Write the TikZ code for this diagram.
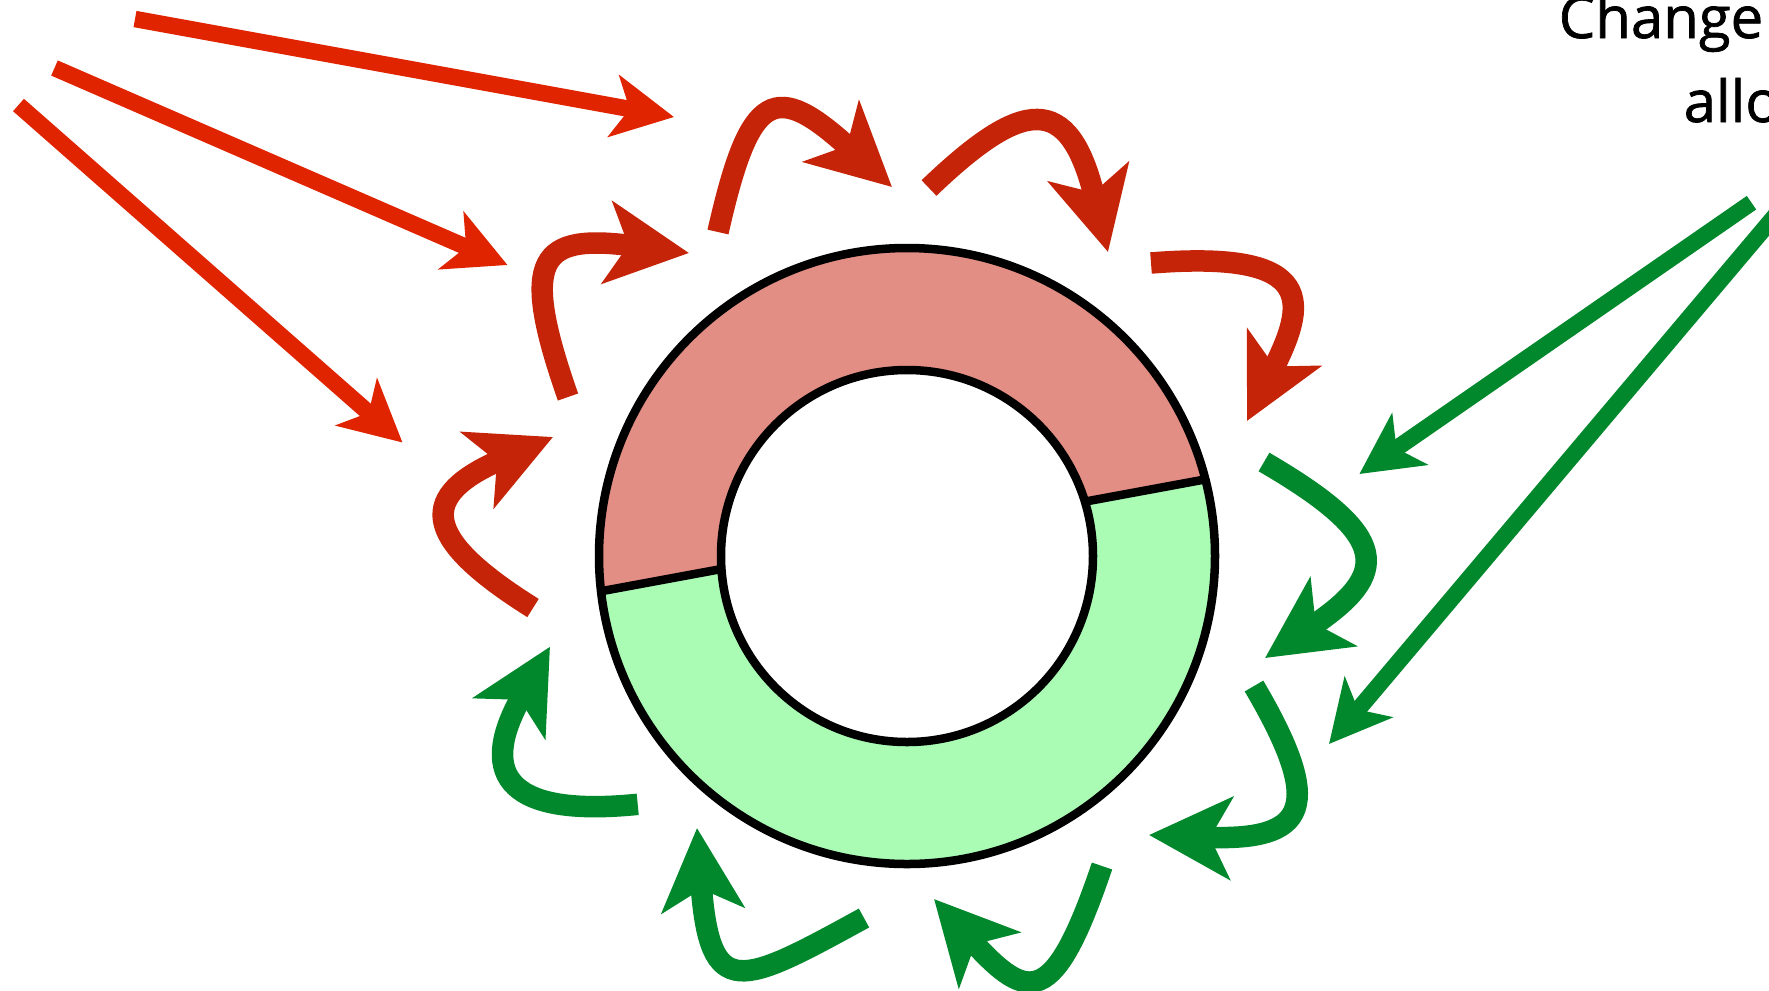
\documentclass[tikz,border=0pt]{standalone}
\usepackage{fontspec}
\setsansfont[FakeBold=1.2]{Open Sans}
\usetikzlibrary{arrows.meta}

\definecolor{feedred}{HTML}{E12400}
\definecolor{curlred}{HTML}{C62408}
\definecolor{curlgreen}{HTML}{02882C}
\definecolor{ringred}{HTML}{E28E84}
\definecolor{ringgreen}{HTML}{AAFCB5}

\begin{document}
\begin{tikzpicture}[
    x=0.01cm, y=-0.01cm,
    font=\sffamily,
    feed_arrow/.style={line width=1.65mm, -{Stealth[length=6.1mm, width=6.2mm, inset=1.6mm]}},
    curl_arrow/.style={line width=2.15mm, -{Stealth[length=8.2mm, width=8.2mm, inset=2.1mm]}},
    rim/.style={draw=black, line width=0.85mm},
    sidenote/.style={anchor=base west, inner sep=0pt, font=\sffamily\fontsize{16.5}{20}\selectfont}
]

% Canvas
\path[use as bounding box, fill=white] (0,0) rectangle (1769,990);

% Ring
\coordinate (hub) at (907,556);
\fill[ringgreen, even odd rule] (hub) circle[radius=308] (hub) circle[radius=186];
\begin{scope}
    \clip (503,609.4) -- (1303,461.3) -- (1303,200) -- (503,200) -- cycle;
    \fill[ringred, even odd rule] (hub) circle[radius=308] (hub) circle[radius=186];
\end{scope}
\coordinate (cutLo) at (601.3,591.2);
\coordinate (cutLi) at (721.5,569);
\coordinate (cutRi) at (1084.5,501.7);
\coordinate (cutRo) at (1204.7,479.5);
\draw[rim] (cutLo) -- (cutLi);
\draw[rim] (cutRi) -- (cutRo);
\draw[rim] (hub) circle[radius=308];
\draw[rim] (hub) circle[radius=186];

% Incoming red arrows
\coordinate (feedA) at (135,19);
\coordinate (feedAend) at (674,117);
\coordinate (feedB) at (54.5,68);
\coordinate (feedBend) at (507.5,265);
\coordinate (feedC) at (18.5,105);
\coordinate (feedCend) at (402.5,442.5);
\draw[feed_arrow, feedred] (feedA) -- (feedAend);
\draw[feed_arrow, feedred] (feedB) -- (feedBend);
\draw[feed_arrow, feedred] (feedC) -- (feedCend);

% Red loops
\coordinate (redA) at (533,608);   \coordinate (redAend) at (553,437);
\coordinate (redB) at (568,397);   \coordinate (redBend) at (689,253);
\coordinate (redC) at (718,232);   \coordinate (redCend) at (892,187);
\coordinate (redD) at (929,188);   \coordinate (redDend) at (1108,252);
\coordinate (redE) at (1151,263);  \coordinate (redEend) at (1247,421);
\draw[curl_arrow, curlred] (redA) .. controls (418,536) and (420,495) .. (redAend);
\draw[curl_arrow, curlred] (redB) .. controls (518.5,256) and (540.2,233.8) .. (redBend);
\draw[curl_arrow, curlred] (redC) .. controls (750,90) and (775,80) .. (redCend);
\draw[curl_arrow, curlred] (redD) .. controls (1022.6,98.3) and (1068.9,91.8) .. (redDend);
\draw[curl_arrow, curlred] (redE) .. controls (1320.5,249.4) and (1305.5,305) .. (redEend);

% Green loops
\coordinate (greenA) at (1264,462);   \coordinate (greenAend) at (1265,658);
\coordinate (greenB) at (1254,686);   \coordinate (greenBend) at (1149,835);
\coordinate (greenC) at (1102,866);   \coordinate (greenCend) at (934,899);
\coordinate (greenD) at (864,918);    \coordinate (greenDend) at (697,828);
\coordinate (greenE) at (637.7,804.3); \coordinate (greenEend) at (550,646.7);
\draw[curl_arrow, curlgreen] (greenA) .. controls (1393,537) and (1389.4,574) .. (greenAend);
\draw[curl_arrow, curlgreen] (greenB) .. controls (1324.8,806.8) and (1308.8,841.4) .. (greenBend);
\draw[curl_arrow, curlgreen] (greenC) .. controls (1054,1008) and (1028.1,1002.6) .. (greenCend);
\draw[curl_arrow, curlgreen] (greenD) .. controls (741.2,985.2) and (709.8,1002.5) .. (greenDend);
\draw[curl_arrow, curlgreen] (greenE) .. controls (498.4,818.3) and (480.7,768.4) .. (greenEend);

% Incoming green arrows
\coordinate (feedD) at (1751.5,202.7);
\coordinate (feedDend) at (1359.4,474);
\coordinate (feedE) at (1790,198);
\coordinate (feedEend) at (1329,744);
\draw[feed_arrow, curlgreen] (feedD) -- (feedDend);
\draw[feed_arrow, curlgreen] (feedE) -- (feedEend);

% Caption, cut by the page edge
\node (noteA) [sidenote] at (1558,38) {Change};
\node (noteB) [sidenote] at (1683,122) {allo};

\end{tikzpicture}
\end{document}
